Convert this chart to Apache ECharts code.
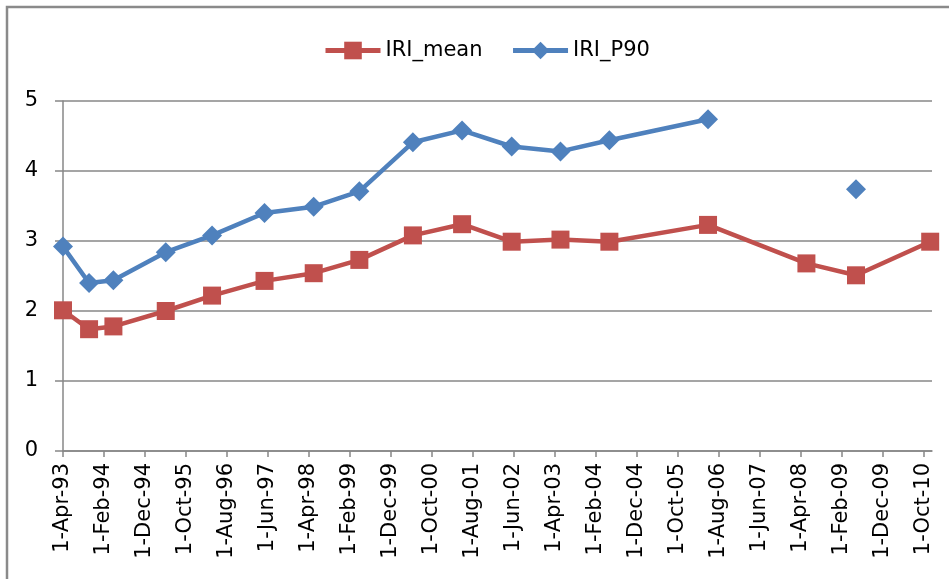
<!DOCTYPE html>
<html>
<head>
<meta charset="utf-8">
<title>IRI</title>
<script src="https://cdn.jsdelivr.net/npm/echarts@6/dist/echarts.min.js"></script>
<style>
  html, body { margin: 0; padding: 0; background: #fff; }
  #chart { width: 949px; height: 579px; }
</style>
</head>
<body>
<div id="chart"></div>
<script>
// survey dates and values
var dates = ['1993-04-01', '1993-10-12', '1994-04-10', '1995-05-03', '1996-04-12', '1997-05-06',
  '1998-05-06', '1999-04-10', '2000-05-12', '2001-05-12', '2002-05-15', '2003-05-12',
  '2004-05-10', '2006-05-12', '2008-05-12', '2009-05-15', '2010-11-18'];
var iriMean = [2.01, 1.74, 1.78, 2.0, 2.22, 2.43, 2.54, 2.73, 3.08, 3.24, 2.99, 3.02, 2.99, 3.23, 2.68, 2.51, 2.99];
var iriP90 = [2.92, 2.40, 2.44, 2.84, 3.08, 3.40, 3.49, 3.71, 4.41, 4.58, 4.35, 4.28, 4.44, 4.74, null, 3.74, null];

// x axis tick labels (every 10 months)
var tickLabels = ['1-Apr-93', '1-Feb-94', '1-Dec-94', '1-Oct-95', '1-Aug-96', '1-Jun-97', '1-Apr-98',
  '1-Feb-99', '1-Dec-99', '1-Oct-00', '1-Aug-01', '1-Jun-02', '1-Apr-03', '1-Feb-04', '1-Dec-04',
  '1-Oct-05', '1-Aug-06', '1-Jun-07', '1-Apr-08', '1-Feb-09', '1-Dec-09', '1-Oct-10'];

var monthNames = ['Jan', 'Feb', 'Mar', 'Apr', 'May', 'Jun', 'Jul', 'Aug', 'Sep', 'Oct', 'Nov', 'Dec'];

// months since 1-Apr-93
function toMonths(y, m, d) {
  return (y - 1993) * 12 + (m - 4) + (d - 1) / 30.4;
}
function isoMonths(s) {
  var p = s.split('-');
  return toMonths(+p[0], +p[1], +p[2]);
}
function labelMonths(s) {
  var p = s.split('-');
  var yy = +p[2];
  return toMonths(yy < 50 ? 2000 + yy : 1900 + yy, monthNames.indexOf(p[1]) + 1, +p[0]);
}

var tickValues = tickLabels.map(labelMonths);
var labelByValue = {};
tickLabels.forEach(function (l, i) { labelByValue[Math.round(tickValues[i])] = l; });

var xs = dates.map(isoMonths);
var meanData = xs.map(function (x, i) { return [x, iriMean[i]]; });
var p90Data = xs.map(function (x, i) { return [x, iriP90[i] === null ? null : iriP90[i]]; });

var font = '"DejaVu Sans", sans-serif';
var gridColor = '#878787';

var myChart = echarts.init(document.getElementById('chart'));

var option = {
  animation: false,
  textStyle: { fontFamily: font },
  graphic: [{
    type: 'rect',
    shape: { x: 7, y: 7, width: 1000, height: 650 },
    style: { fill: 'none', stroke: '#8a8a8a', lineWidth: 2.5 },
    silent: true
  }],
  legend: {
    left: 318,
    top: 35,
    itemWidth: 55,
    itemHeight: 22,
    itemGap: 28,
    lineStyle: { width: 5 },
    textStyle: { fontSize: 21, color: '#000', fontFamily: font },
    data: ['IRI_mean', 'IRI_P90']
  },
  grid: {
    left: 63,
    right: 17,
    top: 101,
    bottom: 128,
    containLabel: false
  },
  xAxis: {
    type: 'value',
    min: 0,
    max: 212,
    interval: 10,
    axisLine: { show: true, onZero: false, lineStyle: { color: gridColor, width: 1.5 } },
    axisTick: {
      show: true, length: 6, customValues: tickValues,
      lineStyle: { color: gridColor, width: 1.5 }
    },
    axisLabel: {
      customValues: tickValues,
      rotate: 90,
      margin: 12,
      fontSize: 21,
      color: '#000',
      fontFamily: font,
      formatter: function (v) { return labelByValue[Math.round(v)] || ''; }
    },
    splitLine: { show: false }
  },
  yAxis: {
    type: 'value',
    min: 0,
    max: 5,
    interval: 1,
    axisLine: { show: true, lineStyle: { color: gridColor, width: 1.5 } },
    axisTick: { show: true, length: 8, lineStyle: { color: gridColor, width: 1.5 } },
    axisLabel: { margin: 25, fontSize: 21, color: '#000', fontFamily: font },
    splitLine: { show: true, lineStyle: { color: gridColor, width: 1.5 } }
  },
  series: [
    {
      name: 'IRI_mean',
      type: 'line',
      data: meanData,
      symbol: 'rect',
      symbolSize: 18,
      showAllSymbol: true,
      itemStyle: { color: '#C0504D' },
      lineStyle: { color: '#C0504D', width: 4.5 }
    },
    {
      name: 'IRI_P90',
      type: 'line',
      data: p90Data,
      symbol: 'diamond',
      symbolSize: 20,
      showAllSymbol: true,
      connectNulls: false,
      itemStyle: { color: '#4F81BD' },
      lineStyle: { color: '#4F81BD', width: 4.5 }
    }
  ]
};
myChart.setOption(option);
</script>
</body>
</html>
